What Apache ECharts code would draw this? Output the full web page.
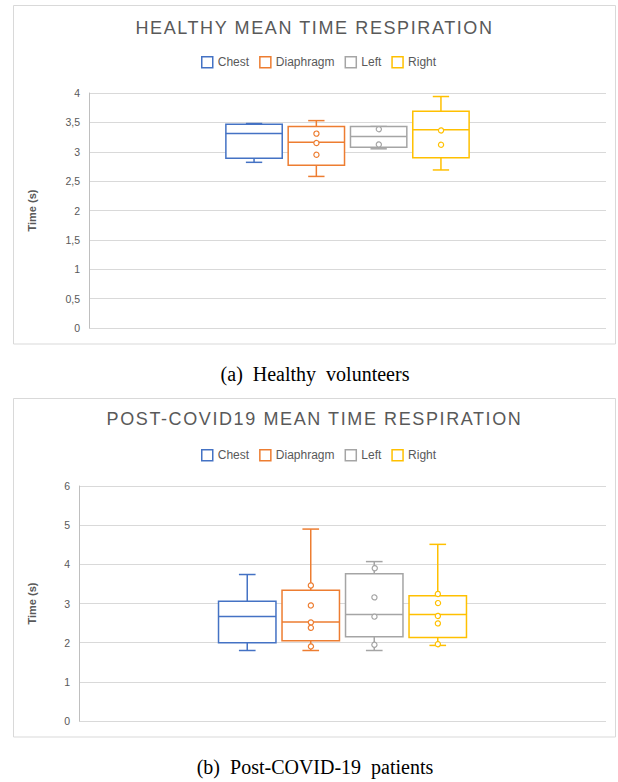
<!DOCTYPE html>
<html>
<head>
<meta charset="utf-8">
<script src="https://cdn.jsdelivr.net/npm/echarts@6/dist/echarts.min.js"></script>
<style>
html,body{margin:0;padding:0;background:#fff;}
#main{width:618px;height:782px;}
</style>
</head>
<body>
<div id="main"></div>
<script>
// ---------- data ----------
const seriesNames = ['Chest', 'Diaphragm', 'Left', 'Right'];
const seriesColors = ['#4472C4', '#ED7D31', '#A5A5A5', '#FFC000'];

// box stats: [min whisker, Q1, median, Q3, max whisker]
const healthyChest     = [2.82, 2.89, 3.31, 3.47, 3.48];
const healthyDiaphragm = [2.58, 2.77, 3.16, 3.43, 3.53];
const healthyLeft      = [3.05, 3.075, 3.26, 3.43, 3.43];
const healthyRight     = [2.69, 2.90, 3.375, 3.69, 3.94];

const healthyChestPts     = [];
const healthyDiaphragmPts = [3.32, 3.16, 2.96];
const healthyLeftPts      = [3.40, 3.14];
const healthyRightPts     = [3.375, 3.13];

const covidChest     = [1.80, 2.00, 2.67, 3.06, 3.74];
const covidDiaphragm = [1.80, 2.05, 2.53, 3.34, 4.90];
const covidLeft      = [1.80, 2.15, 2.72, 3.76, 4.07];
const covidRight     = [1.93, 2.13, 2.72, 3.20, 4.51];

const covidChestPts     = [];
const covidDiaphragmPts = [3.48, 2.97, 2.54, 2.40, 1.93];
const covidLeftPts      = [3.94, 3.18, 2.69, 1.97];
const covidRightPts     = [3.26, 3.04, 2.70, 2.51, 1.98];

const healthyTicks = [0, 0.5, 1, 1.5, 2, 2.5, 3, 3.5, 4];
const covidTicks   = [0, 1, 2, 3, 4, 5, 6];

const titles   = ['HEALTHY MEAN TIME RESPIRATION', 'POST-COVID19 MEAN TIME RESPIRATION'];
const captions = ['(a)  Healthy  volunteers', '(b)  Post-COVID-19  patients'];
const yName = 'Time (s)';

// ---------- chart ----------
const healthyBoxes = [healthyChest, healthyDiaphragm, healthyLeft, healthyRight];
const healthyPts = [healthyChestPts, healthyDiaphragmPts, healthyLeftPts, healthyRightPts];
const covidBoxes = [covidChest, covidDiaphragm, covidLeft, covidRight];
const covidPts = [covidChestPts, covidDiaphragmPts, covidLeftPts, covidRightPts];

const STEP = 0.1205, BOXW = 0.109, CAP = 0.145;

function boxRenderer(idx, color) {
  return function (params, api) {
    const band = api.size([1, 0])[0];
    const step = band * STEP, w = band * BOXW, cap = w * CAP;
    const cx = api.coord([api.value(0), 0])[0] + (idx - 1.5) * step;
    const y = k => api.coord([api.value(0), api.value(k)])[1];
    const ymin = y(1), q1 = y(2), med = y(3), q3 = y(4), ymax = y(5);
    const st = { stroke: color, lineWidth: 1.5, fill: null };
    return {
      type: 'group',
      children: [
        { type: 'line', shape: { x1: cx, y1: q3, x2: cx, y2: ymax }, style: st },
        { type: 'line', shape: { x1: cx, y1: q1, x2: cx, y2: ymin }, style: st },
        { type: 'line', shape: { x1: cx - cap, y1: ymax, x2: cx + cap, y2: ymax }, style: st },
        { type: 'line', shape: { x1: cx - cap, y1: ymin, x2: cx + cap, y2: ymin }, style: st },
        { type: 'rect', shape: { x: cx - w / 2, y: q3, width: w, height: q1 - q3 }, style: { stroke: color, lineWidth: 1.5, fill: '#fff' } },
        { type: 'line', shape: { x1: cx - w / 2, y1: med, x2: cx + w / 2, y2: med }, style: st }
      ]
    };
  };
}
function ptRenderer(idx, color) {
  return function (params, api) {
    const band = api.size([1, 0])[0];
    const step = band * STEP;
    const c = api.coord([api.value(0), api.value(1)]);
    return {
      type: 'circle',
      shape: { cx: c[0] + (idx - 1.5) * step, cy: c[1], r: 2.6 },
      style: { stroke: color, lineWidth: 1.2, fill: '#fff' }
    };
  };
}

const series = [];
function addGroup(gi, boxes, pts) {
  boxes.forEach((b, i) => {
    series.push({
      type: 'custom', name: seriesNames[i], xAxisIndex: gi, yAxisIndex: gi,
      renderItem: boxRenderer(i, seriesColors[i]),
      encode: { x: 0, y: [1, 2, 3, 4, 5] },
      data: [[0].concat(b)], z: 2, silent: true
    });
  });
  pts.forEach((p, i) => {
    series.push({
      type: 'custom', name: seriesNames[i], xAxisIndex: gi, yAxisIndex: gi,
      renderItem: ptRenderer(i, seriesColors[i]),
      encode: { x: 0, y: 1 },
      data: p.map(v => [0, v]), z: 3, silent: true
    });
  });
}
addGroup(0, healthyBoxes, healthyPts);
addGroup(1, covidBoxes, covidPts);

const legendData = seriesNames.map((n, i) => ({
  name: n, icon: 'rect',
  itemStyle: { color: '#fff', borderColor: seriesColors[i], borderWidth: 1.5 }
}));
const fmt = v => String(v).replace('.', ',');

function yAxis(gi, max, interval, gap) {
  return {
    type: 'value', gridIndex: gi, min: 0, max: max, interval: interval,
    name: yName, nameLocation: 'middle', nameGap: gap,
    nameTextStyle: { fontFamily: 'Liberation Sans', fontSize: 11, fontWeight: 'bold', color: '#595959' },
    axisLine: { show: true, lineStyle: { color: '#BFBFBF', width: 1 } },
    axisTick: { show: false },
    axisLabel: { fontFamily: 'Liberation Sans', fontSize: 10.5, color: '#595959', margin: 9, formatter: fmt },
    splitLine: { show: true, lineStyle: { color: '#D9D9D9', width: 1 } }
  };
}
function xAxis(gi) {
  return {
    type: 'category', gridIndex: gi, data: [''],
    axisLine: { show: false }, axisTick: { show: false }, axisLabel: { show: false },
    splitLine: { show: false }
  };
}

const titleStyle = { fontFamily: 'Liberation Sans', fontSize: 18, fontWeight: 'normal', color: '#595959' };
const capStyle = { fontFamily: 'Liberation Serif', fontSize: 20, fontWeight: 'normal', color: '#000' };

const option = {
  animation: false,
  backgroundColor: '#fff',
  title: [
    { text: titles[0], left: 314.5, textAlign: 'center', top: 19, padding: 0, textStyle: titleStyle },
    { text: titles[1], left: 314.5, textAlign: 'center', top: 410, padding: 0, textStyle: titleStyle },
    { text: captions[0], left: 315, textAlign: 'center', top: 364, padding: 0, textStyle: capStyle },
    { text: captions[1], left: 315, textAlign: 'center', top: 757, padding: 0, textStyle: capStyle }
  ],
  legend: [
    { data: legendData, left: 201, top: 56, padding: 0, itemWidth: 11, itemHeight: 11, itemGap: 10, itemTextGap: 5,
      selectedMode: false, textStyle: { fontFamily: 'Liberation Sans', fontSize: 12, color: '#595959' } },
    { data: legendData, left: 201, top: 449, padding: 0, itemWidth: 11, itemHeight: 11, itemGap: 10, itemTextGap: 5,
      selectedMode: false, textStyle: { fontFamily: 'Liberation Sans', fontSize: 12, color: '#595959' } }
  ],
  grid: [
    { left: 89, right: 12, top: 93, height: 235 },
    { left: 79, right: 12, top: 486, height: 235 }
  ],
  xAxis: [xAxis(0), xAxis(1)],
  yAxis: [yAxis(0, 4, 0.5, 52), yAxis(1, 6, 1, 42)],
  graphic: [
    { type: 'rect', shape: { x: 13.5, y: 5.5, width: 602, height: 338.5 }, style: { fill: null, stroke: '#D9D9D9', lineWidth: 1 }, z: -1, silent: true },
    { type: 'rect', shape: { x: 13.5, y: 398.5, width: 602, height: 338.5 }, style: { fill: null, stroke: '#D9D9D9', lineWidth: 1 }, z: -1, silent: true }
  ],
  series: series
};

const chart = echarts.init(document.getElementById('main'), null, { renderer: 'svg' });
chart.setOption(option);

// widen the chart titles like the original's letter-spaced heading
function spaceTitles() {
  document.querySelectorAll('#main svg text').forEach(t => {
    if (titles.indexOf(t.textContent) >= 0) {
      t.style.letterSpacing = '1.6px';
    }
  });
}
spaceTitles();
chart.on('finished', spaceTitles);
</script>
</body>
</html>
